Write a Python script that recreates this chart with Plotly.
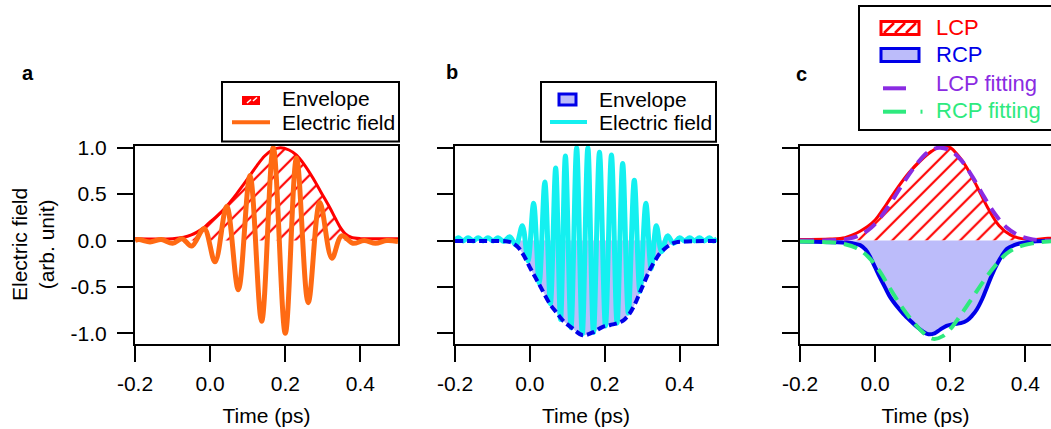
import plotly.graph_objects as go

# ---------------- data ----------------
# Panel a: envelope (hatched) and electric field
a_env_t = [-0.2, -0.1, -0.07, -0.05, -0.035, -0.016, 0.0, 0.02, 0.044, 0.07, 0.09, 0.106, 0.125, 0.145,
           0.165, 0.187, 0.21, 0.23, 0.25, 0.274, 0.295, 0.319, 0.333, 0.345, 0.36, 0.375, 0.4, 0.45, 0.5]
a_env_v = [0.02, 0.02, 0.035, 0.06, 0.09, 0.14, 0.20, 0.27, 0.37, 0.50, 0.61, 0.70, 0.81, 0.91,
           0.975, 1.0, 0.975, 0.92, 0.82, 0.67, 0.52, 0.35, 0.24, 0.15, 0.07, 0.035, 0.02, 0.02, 0.02]
a_field_t = [-0.2, -0.19, -0.16, -0.13, -0.10, -0.075, -0.049, -0.016, 0.013, 0.044, 0.075, 0.106, 0.137,
             0.168, 0.2, 0.23, 0.261, 0.292, 0.324, 0.35, 0.38, 0.41, 0.44, 0.47, 0.5]
a_field_v = [0.0, 0.01, -0.015, 0.01, -0.03, 0.02, -0.06, 0.13, -0.23, 0.37, -0.53, 0.70, -0.87,
             1.0, -1.0, 0.89, -0.67, 0.41, -0.19, 0.05, -0.03, 0.0, -0.03, 0.0, -0.01]

# Panel b: negative envelope (filled) and electric field
b_env_t = [-0.2, -0.1, -0.06, -0.045, -0.03, -0.015, 0.0, 0.015, 0.03, 0.053, 0.07, 0.088, 0.115, 0.141,
           0.168, 0.195, 0.215, 0.235, 0.25, 0.266, 0.28, 0.293, 0.307, 0.32, 0.334, 0.347, 0.36, 0.373,
           0.39, 0.42, 0.5]
b_env_v = [-0.005, -0.005, -0.01, -0.03, -0.08, -0.17, -0.29, -0.40, -0.51, -0.68, -0.77, -0.86, -0.95, -1.02,
           -0.99, -0.93, -0.91, -0.89, -0.86, -0.79, -0.69, -0.57, -0.44, -0.32, -0.22, -0.14, -0.09, -0.05,
           -0.02, -0.01, -0.005]
b_field_t = [-0.2, -0.191, -0.178, -0.165, -0.151, -0.138, -0.125, -0.112, -0.098, -0.085, -0.07, -0.054,
             -0.037, -0.02, -0.005, 0.01, 0.025, 0.04, 0.055, 0.069, 0.082, 0.095, 0.11, 0.125, 0.14,
             0.155, 0.17, 0.186, 0.202, 0.218, 0.233, 0.248, 0.263, 0.279, 0.294, 0.31, 0.324, 0.338,
             0.352, 0.368, 0.384, 0.4, 0.413, 0.427, 0.44, 0.453, 0.466, 0.48, 0.49, 0.5]
b_field_v = [0.0, 0.03, -0.005, 0.03, -0.005, 0.03, -0.005, 0.03, -0.005, 0.03, -0.01, 0.04,
             -0.05, 0.16, -0.22, 0.40, -0.46, 0.63, -0.68, 0.78, -0.85, 0.91, -0.94, 1.0, -1.01,
             1.0, -0.99, 0.95, -0.92, 0.92, -0.89, 0.83, -0.78, 0.65, -0.55, 0.40, -0.30, 0.16,
             -0.12, 0.05, -0.03, 0.03, -0.005, 0.03, -0.005, 0.03, -0.005, 0.03, -0.005, 0.02]

# Panel c: LCP / RCP and their fittings
c_lcp_t = [-0.2, -0.12, -0.08, -0.06, -0.04, -0.02, 0.0, 0.03, 0.06, 0.09, 0.12, 0.15, 0.18, 0.2,
           0.22, 0.24, 0.27, 0.3, 0.33, 0.36, 0.39, 0.42, 0.46, 0.5]
c_lcp_v = [0.01, 0.015, 0.03, 0.06, 0.10, 0.15, 0.22, 0.39, 0.57, 0.73, 0.86, 0.96, 1.02, 1.0,
           0.92, 0.81, 0.59, 0.35, 0.16, 0.06, 0.02, 0.01, 0.025, 0.02]
c_rcp_t = [-0.2, -0.1, -0.06, -0.04, -0.025, -0.013, 0.0, 0.013, 0.027, 0.04, 0.06, 0.075, 0.095, 0.111,
           0.127, 0.142, 0.158, 0.173, 0.19, 0.209, 0.228, 0.245, 0.258, 0.271, 0.285, 0.298, 0.311,
           0.325, 0.338, 0.351, 0.37, 0.387, 0.42, 0.5]
c_rcp_v = [-0.01, -0.02, -0.03, -0.05, -0.10, -0.18, -0.29, -0.40, -0.51, -0.61, -0.72, -0.79, -0.87, -0.93,
           -0.98, -1.01, -1.0, -0.96, -0.92, -0.90, -0.89, -0.86, -0.81, -0.74, -0.63, -0.50, -0.37,
           -0.25, -0.16, -0.09, -0.05, -0.03, -0.01, 0.0]
c_lcpfit_t = [-0.2, -0.1, -0.07, -0.04, -0.01, 0.02, 0.05, 0.08, 0.11, 0.14, 0.17, 0.2, 0.23, 0.26,
              0.29, 0.32, 0.35, 0.38, 0.41, 0.45, 0.5]
c_lcpfit_v = [0.0, 0.005, 0.02, 0.06, 0.14, 0.28, 0.46, 0.65, 0.82, 0.95, 1.0, 0.97, 0.86, 0.68,
              0.47, 0.28, 0.14, 0.06, 0.02, 0.0, 0.0]
c_rcpfit_t = [-0.2, -0.12, -0.08, -0.05, -0.02, 0.01, 0.04, 0.07, 0.1, 0.13, 0.155, 0.18, 0.205, 0.23,
              0.26, 0.29, 0.32, 0.35, 0.38, 0.42, 0.46, 0.5]
c_rcpfit_v = [-0.01, -0.02, -0.04, -0.08, -0.17, -0.32, -0.52, -0.71, -0.87, -1.0, -1.06, -1.03, -0.93, -0.79,
              -0.61, -0.43, -0.27, -0.14, -0.07, -0.03, -0.01, 0.0]

x_tickvals = [-0.2, 0.0, 0.2, 0.4]
x_ticktext = ["-0.2", "0.0", "0.2", "0.4"]
y_tickvals = [-1.0, -0.5, 0.0, 0.5, 1.0]
y_ticktext = ["-1.0", "-0.5", "0.0", "0.5", "1.0"]

# ---------------- styling ----------------
W, H = 1051, 429
FONT = "Liberation Sans, Arial, sans-serif"
RED = "#ff0000"
ORANGE = "#ff6a13"
CYAN = "#14f0f0"
BLUE = "#0000e8"
LAVENDER = "#bcbcfa"
PURPLE = "#8a2be2"
GREEN = "#2eea7e"
HATCH = dict(shape="/", fgcolor=RED, bgcolor="rgba(0,0,0,0)", fgopacity=1, size=12, solidity=0.18)


def px(x):
    return x / W


def py(y):
    return 1 - y / H


fig = go.Figure()

# Panel a
fig.add_trace(go.Scatter(x=a_env_t, y=a_env_v, mode="lines", xaxis="x", yaxis="y",
                         line=dict(color=RED, width=3, shape="spline"),
                         fill="tozeroy", fillcolor="rgba(0,0,0,0)", fillpattern=HATCH,
                         name="Envelope", showlegend=False))
fig.add_trace(go.Scatter(x=a_field_t, y=a_field_v, mode="lines", xaxis="x", yaxis="y",
                         line=dict(color=ORANGE, width=5, shape="spline"),
                         name="Electric field", showlegend=False))

# Panel b
fig.add_trace(go.Scatter(x=b_env_t, y=b_env_v, mode="lines", xaxis="x2", yaxis="y2",
                         line=dict(color=LAVENDER, width=0, shape="spline"),
                         fill="tozeroy", fillcolor=LAVENDER, showlegend=False, hoverinfo="skip"))
fig.add_trace(go.Scatter(x=b_field_t, y=b_field_v, mode="lines", xaxis="x2", yaxis="y2",
                         line=dict(color=CYAN, width=5, shape="spline"),
                         name="Electric field", showlegend=False))
fig.add_trace(go.Scatter(x=b_env_t, y=b_env_v, mode="lines", xaxis="x2", yaxis="y2",
                         line=dict(color=BLUE, width=4, shape="spline", dash="8px,4px"),
                         name="Envelope", showlegend=False))

# Panel c
fig.add_trace(go.Scatter(x=c_lcp_t, y=c_lcp_v, mode="lines", xaxis="x3", yaxis="y3",
                         line=dict(color=RED, width=3, shape="spline"),
                         fill="tozeroy", fillcolor="rgba(0,0,0,0)", fillpattern=HATCH,
                         name="LCP", showlegend=False))
fig.add_trace(go.Scatter(x=c_rcp_t, y=c_rcp_v, mode="lines", xaxis="x3", yaxis="y3",
                         line=dict(color=BLUE, width=4, shape="spline"),
                         fill="tozeroy", fillcolor=LAVENDER,
                         name="RCP", showlegend=False))
fig.add_trace(go.Scatter(x=c_lcpfit_t, y=c_lcpfit_v, mode="lines", xaxis="x3", yaxis="y3",
                         line=dict(color=PURPLE, width=4, shape="spline", dash="14px,8px"),
                         name="LCP fitting", showlegend=False))
fig.add_trace(go.Scatter(x=c_rcpfit_t, y=c_rcpfit_v, mode="lines", xaxis="x3", yaxis="y3",
                         line=dict(color=GREEN, width=4, shape="spline", dash="14px,8px"),
                         name="RCP fitting", showlegend=False))

Y0, Y1 = py(344), py(146)
yrange = [-1.115, 1.018]
axis_common = dict(showline=True, linecolor="black", linewidth=2, ticks="outside", ticklen=16,
                   tickwidth=2, tickcolor="black", showgrid=False, zeroline=False,
                   tickfont=dict(family=FONT, size=21, color="black"))


def xax(domain, rng, mirror=True):
    d = dict(axis_common)
    d.update(domain=domain, range=rng, tickvals=x_tickvals, ticktext=x_ticktext, mirror=mirror,
             ticklabelstandoff=4,
             title=dict(text="Time (ps)", font=dict(family=FONT, size=21, color="black"), standoff=14))
    return d


def yax(domain_x_anchor, show_labels, mirror=True):
    d = dict(axis_common)
    d.update(domain=[Y0, Y1], range=yrange, tickvals=y_tickvals, ticktext=y_ticktext,
             showticklabels=show_labels, mirror=mirror, anchor=domain_x_anchor, ticklabelstandoff=6)
    return d


fig.update_layout(
    width=W, height=H,
    margin=dict(l=0, r=0, t=0, b=0, autoexpand=False),
    paper_bgcolor="white", plot_bgcolor="white",
    font=dict(family=FONT, size=21, color="black"),
    showlegend=False,
    xaxis=dict(xax([px(135), px(398)], [-0.2, 0.5]), anchor="y"),
    yaxis=yax("x", True),
    xaxis2=dict(xax([px(455), px(717)], [-0.2, 0.5]), anchor="y2"),
    yaxis2=yax("x2", False),
    xaxis3=dict(xax([px(800), 1.0], [-0.2, -0.2 + 251 / 375.7]), anchor="y3"),
    yaxis3=yax("x3", False, mirror=False),
)

# ---------------- manual legends ----------------
shapes = []
ann = []


def rect(x0, y0, x1, y1, line_color, lw, fill):
    shapes.append(dict(type="rect", xref="paper", yref="paper", x0=px(x0), x1=px(x1), y0=py(y1), y1=py(y0),
                       line=dict(color=line_color, width=lw), fillcolor=fill, layer="above"))


def seg(x0, y0, x1, y1, color, lw, dash="solid"):
    shapes.append(dict(type="line", xref="paper", yref="paper", x0=px(x0), x1=px(x1), y0=py(y0), y1=py(y1),
                       line=dict(color=color, width=lw, dash=dash), layer="above"))


def text(x, y, s, color="black", size=21, bold=False, anchor="left", angle=0):
    if bold:
        s = "<b>" + s + "</b>"
    ann.append(dict(xref="paper", yref="paper", x=px(x), y=py(y), text=s, showarrow=False,
                    xanchor=anchor, yanchor="middle", textangle=angle,
                    font=dict(family=FONT, size=size, color=color)))


# y-axis title of panel a
text(33, 245, "Electric field<br>(arb. unit)", anchor="center", angle=-90)

# legend a
rect(222, 82, 399, 141.5, "black", 2, "white")
rect(242, 96, 260, 105, RED, 0, RED)
seg(247, 103, 251, 99.5, "white", 1.5)
seg(253, 101, 257, 97.5, "white", 1.5)
seg(232, 122.3, 270, 122.3, ORANGE, 4)
text(280, 98.5, "Envelope")
text(280, 122.3, "Electric field")

# legend b
rect(541, 82, 716, 141.7, "black", 2, "white")
rect(559, 94, 576, 105, BLUE, 3, LAVENDER)
seg(550, 122, 587, 122, CYAN, 4)
text(597, 99, "Envelope")
text(597, 122.5, "Electric field")

# legend c
rect(859, 6, 1075, 130, "black", 2, "white")
rect(881, 21.5, 919, 34.5, RED, 3, "white")
for sx in (884, 895, 906):
    seg(sx, 33, sx + 10, 23, RED, 2.5)
rect(881, 48.5, 919, 61.5, BLUE, 3, LAVENDER)
seg(883, 88.3, 906, 88.3, PURPLE, 4)
seg(883, 111.7, 906, 111.7, GREEN, 4)
seg(920.5, 111.7, 922.5, 111.7, GREEN, 4)
text(934, 27.7, "LCP", RED, size=22)
text(934, 55, "RCP", BLUE, size=22)
text(934, 83.5, "LCP fitting", PURPLE, size=22)
text(934, 110.8, "RCP fitting", GREEN, size=22)

# panel letters
text(28, 73, "a", bold=True, size=20, anchor="center")
text(452, 72, "b", bold=True, size=20, anchor="center")
text(801, 74, "c", bold=True, size=20, anchor="center")

fig.update_layout(shapes=shapes, annotations=ann)
fig.write_html("out.html", config={"displayModeBar": False},
               post_script="document.body.style.margin='0px';document.body.style.overflow='hidden';")
